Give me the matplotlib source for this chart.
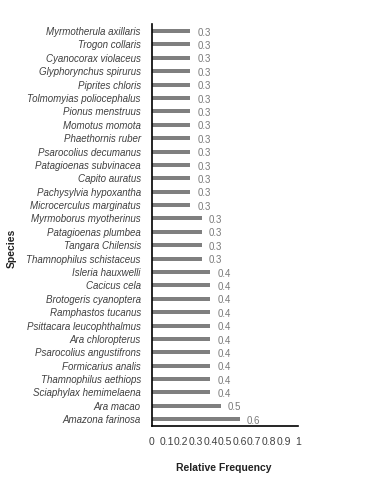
import matplotlib.pyplot as plt
import numpy as np

# species, top to bottom as in the chart
species = [
    "Myrmotherula axillaris", "Trogon collaris", "Cyanocorax violaceus",
    "Glyphorynchus spirurus", "Piprites chloris", "Tolmomyias poliocephalus",
    "Pionus menstruus", "Momotus momota", "Phaethornis ruber",
    "Psarocolius decumanus", "Patagioenas subvinacea", "Capito auratus",
    "Pachysylvia hypoxantha", "Microcerculus marginatus",
    "Myrmoborus myotherinus", "Patagioenas plumbea", "Tangara Chilensis",
    "Thamnophilus schistaceus", "Isleria hauxwelli", "Cacicus cela",
    "Brotogeris cyanoptera", "Ramphastos tucanus", "Psittacara leucophthalmus",
    "Ara chloropterus", "Psarocolius angustifrons", "Formicarius analis",
    "Thamnophilus aethiops", "Sciaphylax hemimelaena", "Ara macao",
    "Amazona farinosa",
]
rel_freq = [0.26] * 14 + [0.34] * 4 + [0.40] * 10 + [0.47, 0.60]
xticks = [0, 0.1, 0.2, 0.3, 0.4, 0.5, 0.6, 0.7, 0.8, 0.9, 1]
xtick_labels = ["0", "0.1", "0.2", "0.3", "0.4", "0.5", "0.6", "0.7", "0.8", "0.9", "1"]

plt.rcParams['font.family'] = ['Liberation Sans', 'DejaVu Sans']

fig = plt.figure(figsize=(3.75, 4.97), dpi=100)
ax = fig.add_axes([0.405, 0.143, 0.39, 0.808])

y = np.arange(len(species))
ax.barh(y, rel_freq, height=0.3, color="#7f7f7f")

for yi, v in zip(y, rel_freq):
    ax.text(v + 0.05, yi + 0.12, f"{v:.1f}", fontsize=7, color="#7a7a7a",
            va="center", ha="left")

ax.set_yticks(y)
ax.set_yticklabels(species, fontsize=7, style="italic", color="#404040")
ax.set_ylim(len(species) - 0.5, -0.5)
ax.set_xlim(0, 1)
ax.set_xticks(xticks)
ax.set_xticklabels(xtick_labels, fontsize=7.5, color="#404040")
ax.tick_params(axis="both", length=0)
ax.tick_params(axis="x", pad=8)
ax.tick_params(axis="y", pad=8)

for s in ["top", "right"]:
    ax.spines[s].set_visible(False)
for s in ["left", "bottom"]:
    ax.spines[s].set_color("black")
    ax.spines[s].set_linewidth(1.2)

fig.text(0.597, 0.058, "Relative Frequency", fontsize=7.5, fontweight="bold",
         ha="center", va="center", color="#222222")
fig.text(0.03, 0.50, "Species", fontsize=7.5, fontweight="bold", rotation=90,
         ha="center", va="center", color="#222222")

fig.savefig("out.png", dpi=100)
